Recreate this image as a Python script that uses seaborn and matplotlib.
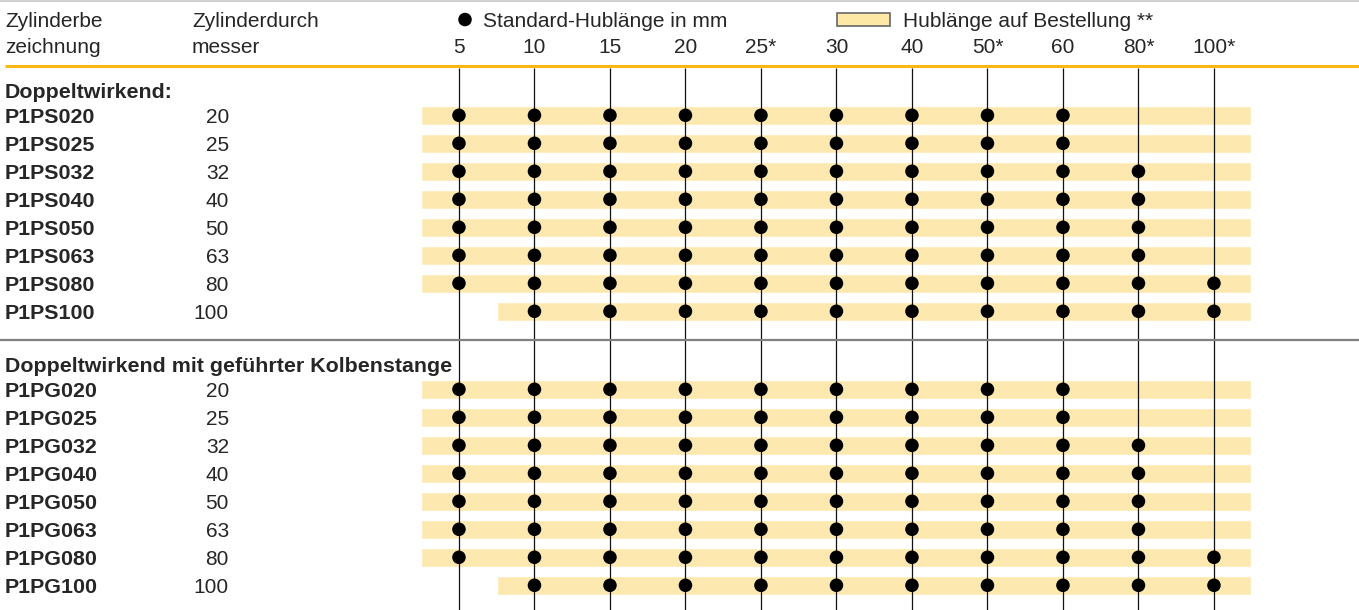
import matplotlib
matplotlib.use('Agg')
import matplotlib.pyplot as plt
from matplotlib.patches import Rectangle
import pandas as pd
import seaborn as sns

sns.set_style('white')
plt.rcParams['font.family'] = ['Liberation Sans', 'DejaVu Sans']

# stroke lengths (columns)
strokes = ['5', '10', '15', '20', '25*', '30', '40', '50*', '60', '80*', '100*']

# cylinder rows
ps_models = ['P1PS020', 'P1PS025', 'P1PS032', 'P1PS040', 'P1PS050', 'P1PS063', 'P1PS080', 'P1PS100']
pg_models = ['P1PG020', 'P1PG025', 'P1PG032', 'P1PG040', 'P1PG050', 'P1PG063', 'P1PG080', 'P1PG100']
diameters = [20, 25, 32, 40, 50, 63, 80, 100]

# standard stroke range per diameter (first / last standard stroke)
std_first = ['5', '5', '5', '5', '5', '5', '5', '10']
std_last = ['60', '60', '80*', '80*', '80*', '80*', '100*', '100*']

group_titles = ['Doppeltwirkend:', 'Doppeltwirkend mit geführter Kolbenstange']

# row positions (row pitch units)
group_offset = [0, 9.786]

rows = []
dots = []
for g, models in enumerate([ps_models, pg_models]):
    for r, (m, d) in enumerate(zip(models, diameters)):
        y = group_offset[g] + r
        i0 = strokes.index(std_first[r])
        i1 = strokes.index(std_last[r])
        rows.append(dict(model=m, diam=d, y=y, start=i0 - 0.5))
        for i in range(i0, i1 + 1):
            dots.append(dict(x=i, y=y))
rows = pd.DataFrame(rows)
dots = pd.DataFrame(dots)

fig = plt.figure(figsize=(13.59, 6.10), dpi=100)
ax = fig.add_axes([0, 0, 1, 1])
ax.set_xlim(-6.079, 11.921)
ax.set_ylim(17.668, -4.118)
ax.axis('off')

fs = 15
fsb = 15.4
orange = '#fbb714'
bar_col = '#fde9b0'

# order-on-request bars (up to half a column past the last stroke)
bar_end = len(strokes) - 0.51
ax.barh(rows['y'], bar_end - rows['start'], left=rows['start'],
        height=0.67, color=bar_col, zorder=1)

# vertical stroke lines
ax.vlines(range(len(strokes)), -1.7, 17.668, color='#111111', lw=0.9, zorder=2)

# standard strokes
sns.scatterplot(data=dots, x='x', y='y', ax=ax, color='black', s=95,
                edgecolor='none', zorder=3, legend=False)
ax.set_xlabel('')
ax.set_ylabel('')

# horizontal rules
ax.axhline(-4.08, color='#c8c8c8', lw=1.2)
ax.plot([-6.013, 11.921], [-1.77, -1.77], color=orange, lw=2.2, solid_capstyle='butt')
ax.axhline(8.025, color='#808080', lw=1.6, zorder=4)

# header
ax.text(-6.013, -3.15, 'Zylinderbe', fontsize=fs, va='baseline', ha='left')
ax.text(-6.013, -2.225, 'zeichnung', fontsize=fs, va='baseline', ha='left')
ax.text(-3.536, -3.15, 'Zylinderdurch', fontsize=fs, va='baseline', ha='left')
ax.text(-3.536, -2.225, 'messer', fontsize=fs, va='baseline', ha='left')
for i, s in enumerate(strokes):
    ax.text(i, -2.225, s, fontsize=fs, va='baseline', ha='center')

# legend
ax.scatter([0.08], [-3.42], s=95, color='black', edgecolor='none')
ax.text(0.318, -3.15, 'Standard-Hublänge in mm', fontsize=fs, va='baseline', ha='left')
ax.add_patch(Rectangle((5.007, -3.654), 0.702, 0.465, facecolor='#fee8a6',
                       edgecolor='#666666', lw=1.2))
ax.text(5.88, -3.15, 'Hublänge auf Bestellung **', fontsize=fs, va='baseline', ha='left')

# group titles and row labels
dy = 0.07
for g, t in enumerate(group_titles):
    ax.text(-6.013, group_offset[g] - 0.9 + dy, t, fontsize=fsb, fontweight='bold',
            va='center', ha='left')
for _, r in rows.iterrows():
    ax.text(-6.013, r['y'] + dy, r['model'], fontsize=fsb, fontweight='bold',
            va='center', ha='left')
    ax.text(-3.046, r['y'] + dy, str(r['diam']), fontsize=fs, va='center', ha='right')

fig.savefig('out.png', dpi=100)
